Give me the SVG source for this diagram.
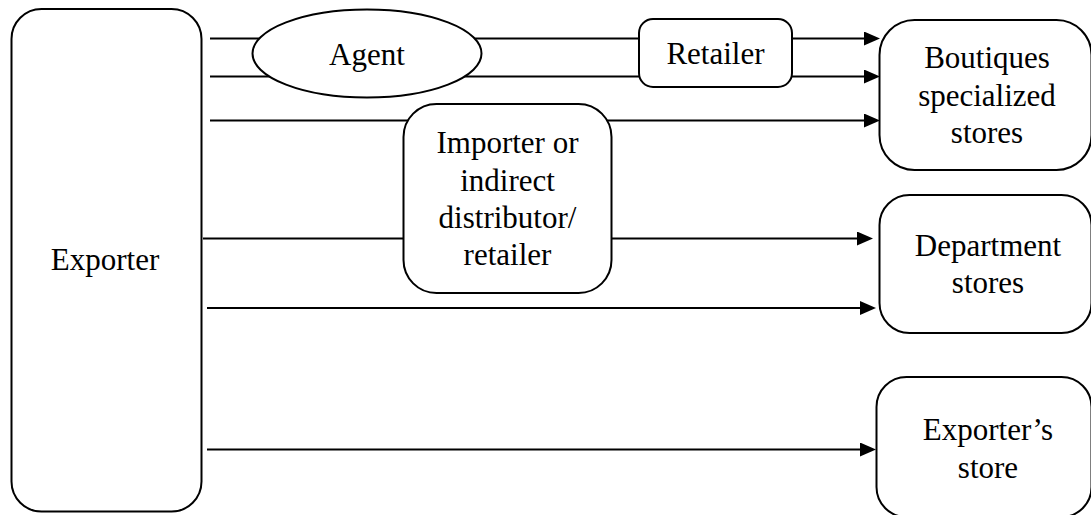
<svg xmlns="http://www.w3.org/2000/svg" width="1091" height="515" viewBox="0 0 1091 515">
  <style>
    .box { fill: #ffffff; stroke: #000000; stroke-width: 2; }
    .edge { fill: none; stroke: #000000; stroke-width: 2; }
    .arrow { marker-end: url(#head); }
    text { font-family: "Liberation Serif", "Times New Roman", serif; font-size: 31px; fill: #000000; text-anchor: middle; }
  </style>
  <defs>
    <marker id="head" viewBox="0 0 16 14" refX="12" refY="7" markerWidth="16" markerHeight="14" markerUnits="userSpaceOnUse" orient="auto">
      <path d="M0,0 L16,7 L0,14 Z" fill="#000000"/>
    </marker>
  </defs>
  <rect width="1091" height="515" fill="#ffffff"/>

  <!-- channel lines, drawn first so the intermediary boxes sit on top -->
  <g id="connectors">
    <line class="edge arrow" x1="210" y1="38.5" x2="876" y2="38.5"/>
    <line class="edge arrow" x1="210" y1="76.5" x2="876" y2="76.5"/>
    <line class="edge arrow" x1="210" y1="120.5" x2="876" y2="120.5"/>
    <line class="edge arrow" x1="203" y1="238.5" x2="869" y2="238.5"/>
    <line class="edge arrow" x1="207" y1="308" x2="872" y2="308"/>
    <line class="edge arrow" x1="207" y1="449.5" x2="872" y2="449.5"/>
  </g>

  <g id="exporter">
    <rect class="box" x="11.5" y="9" width="190" height="502.5" rx="30" ry="30"/>
    <text x="105" y="270">Exporter</text>
  </g>

  <g id="agent">
    <ellipse class="box" cx="367" cy="53.5" rx="114.5" ry="44"/>
    <text x="367" y="65">Agent</text>
  </g>

  <g id="retailer">
    <rect class="box" x="639" y="19" width="153" height="68" rx="14" ry="14"/>
    <text x="715.5" y="64">Retailer</text>
  </g>

  <g id="importer">
    <rect class="box" x="403.5" y="104" width="208" height="189" rx="33" ry="33"/>
    <text x="507.5" y="153">Importer or</text>
    <text x="507.5" y="191">indirect</text>
    <text x="507.5" y="228">distributor/</text>
    <text x="507.5" y="265">retailer</text>
  </g>

  <g id="boutiques">
    <rect class="box" x="879.5" y="20" width="212" height="150" rx="35" ry="35"/>
    <text x="987" y="68">Boutiques</text>
    <text x="987" y="106">specialized</text>
    <text x="987" y="143">stores</text>
  </g>

  <g id="department">
    <rect class="box" x="879.5" y="195" width="212" height="138" rx="30" ry="30"/>
    <text x="988" y="256">Department</text>
    <text x="988" y="293">stores</text>
  </g>

  <g id="exporters-store">
    <rect class="box" x="876.5" y="377" width="215" height="140" rx="30" ry="30"/>
    <text x="988" y="440">Exporter’s</text>
    <text x="988" y="478">store</text>
  </g>
</svg>
